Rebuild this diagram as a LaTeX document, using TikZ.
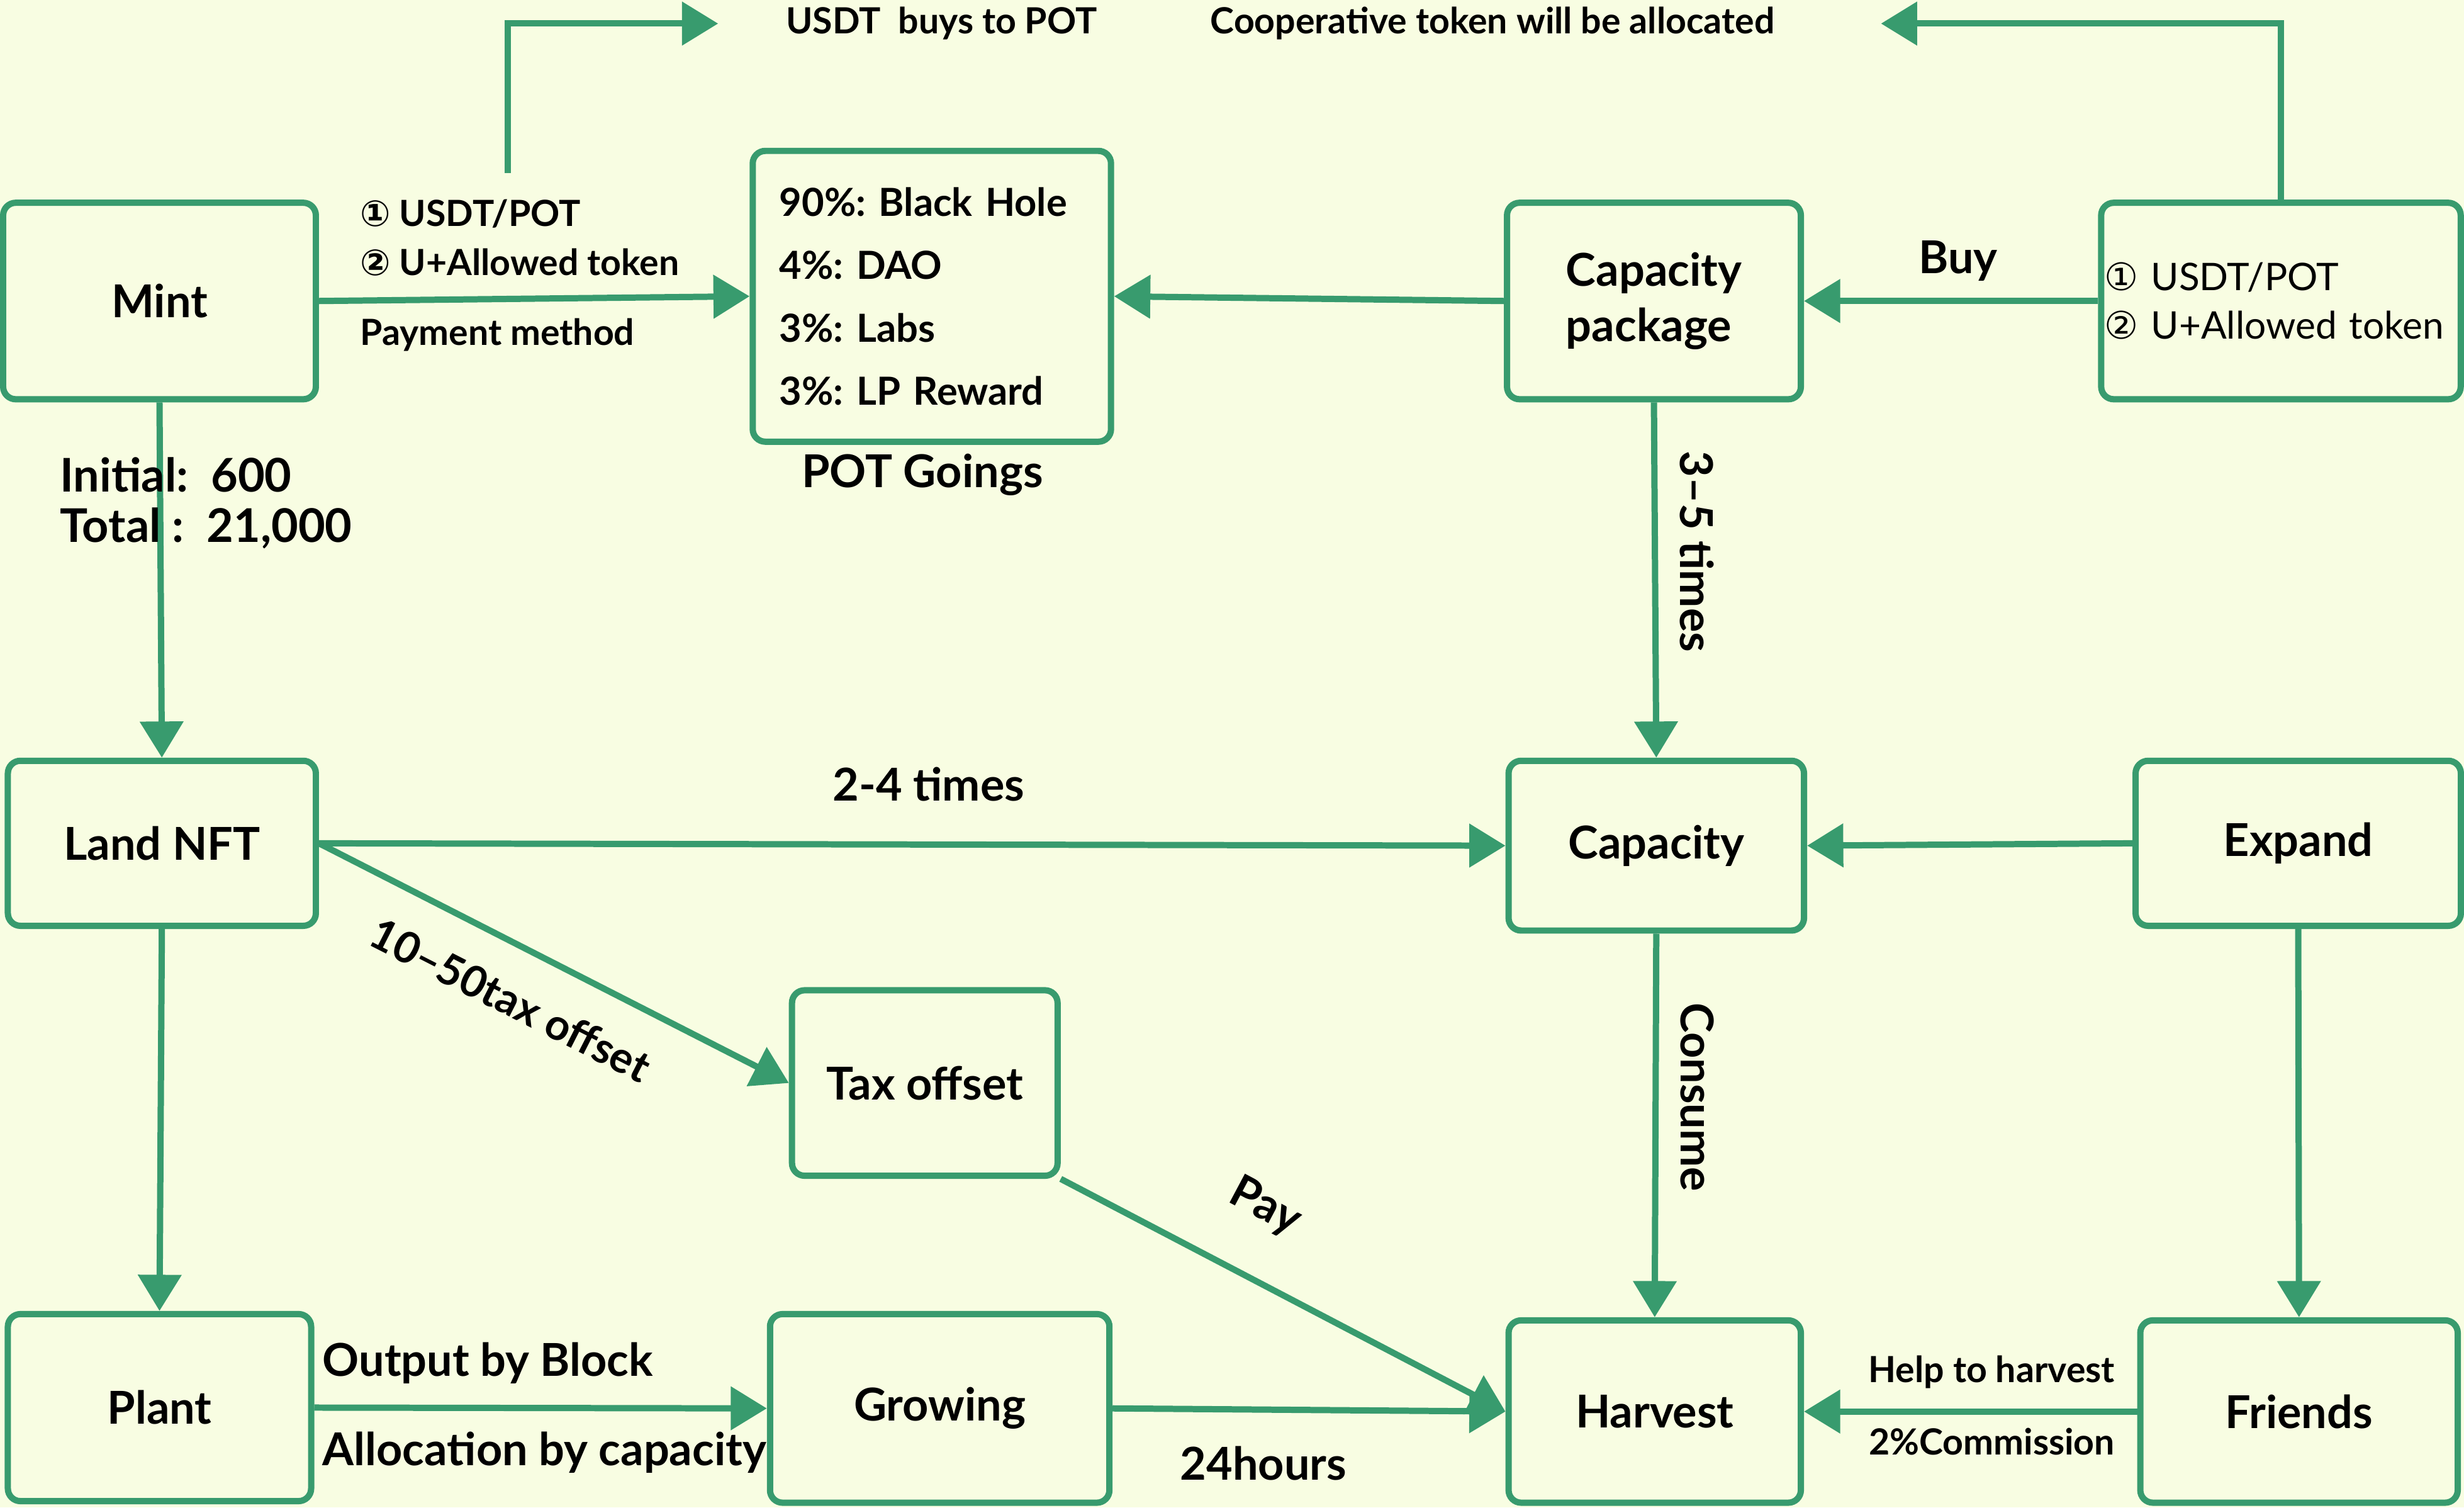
\documentclass[tikz,border=0pt]{standalone}
\usepackage{fontspec}
\setmainfont{Lato}
\newfontfamily\circfont{DejaVu Sans}
\usetikzlibrary{arrows.meta}
\frenchspacing

\definecolor{potgreen}{RGB}{56,155,110}
\definecolor{bgcol}{RGB}{248,253,226}

\newcommand{\cone}{{\circfont\char"2460}}
\newcommand{\ctwo}{{\circfont\char"2461}}

\begin{document}
\begin{tikzpicture}[
    x=0.25mm, y=-0.25mm,
    box/.style={
        draw=potgreen,
        line width=1mm,
        rounded corners=2mm,
        align=center,
        inner sep=0pt,
        font=\fontsize{20.5}{25}\selectfont\bfseries
    },
    arr/.style={
        draw=potgreen,
        line width=1mm,
        -{Triangle[length=5.75mm,width=6.75mm]}
    },
    lbl/.style={inner sep=0pt, font=\fontsize{20.5}{24}\selectfont\bfseries},
    small/.style={inner sep=0pt, font=\fontsize{16.3}{19}\selectfont\bfseries}
]
    % background
    \fill[bgcol] (0,0) rectangle (1568,959);
    \useasboundingbox (0,0) rectangle (1568,959);

    % top row
    \node[box, minimum width=49.75mm, minimum height=31.25mm] (mint) at (101.5,191.5) {Mint};
    \node[box, text width=48.5mm, inner xsep=4.25mm, minimum height=46.25mm, align=left,
          font=\fontsize{17.5}{28.45}\selectfont\bfseries] (pot) at (593,188.5)
        {90\%: Black Hole\\4\%: DAO\\3\%: Labs\\3\%: LP Reward};
    \node[box, minimum width=46.75mm, minimum height=31.25mm, align=left] (capkg) at (1052.5,191.5)
        {Capacity\\package};
    \node[box, text width=56.2mm, inner xsep=0.5mm, minimum height=31.25mm, align=left,
          font=\fontsize{17.2}{22}\selectfont] (usdt) at (1451.5,191.5)
        {\cone\ USDT/POT\\\ctwo\ U+Allowed token\\[2mm]};

    % middle row
    \node[box, minimum width=49mm, minimum height=26.25mm] (land) at (103,536.5) {Land NFT};
    \node[box, minimum width=47mm, minimum height=27mm] (cap) at (1054,538) {Capacity};
    \node[box, minimum width=51.75mm, minimum height=26.25mm] (expand) at (1462.5,536.5) {Expand};
    \node[box, minimum width=42.25mm, minimum height=29.5mm] (tax) at (588.5,689) {Tax offset};

    % bottom row
    \node[box, minimum width=48.25mm, minimum height=29.75mm] (plant) at (101.5,895.5) {Plant};
    \node[box, minimum width=54mm, minimum height=30mm] (grow) at (598,896) {Growing};
    \node[box, minimum width=46.5mm, minimum height=29mm] (harvest) at (1053,898) {Harvest};
    \node[box, minimum width=50.5mm, minimum height=29mm] (friends) at (1463,898) {Friends};

    % free ends of the top connectors
    \coordinate (buyA) at (323,110);
    \coordinate (buyB) at (457,15);
    \coordinate (coopB) at (1197,15);

    % Edges
    \draw[arr] (mint.east) -- (pot.west);
    \draw[arr] (buyA) |- (buyB);
    \draw[arr] (usdt.north) |- (coopB);
    \draw[arr] (capkg.west) -- (pot.east);
    \draw[arr] (usdt.west) -- (capkg.east);
    \draw[arr] (mint.south) -- (land.north);
    \draw[arr] (capkg.south) -- (cap.north);
    \draw[arr] (land.east) -- (cap.west);
    \draw[arr] (expand.west) -- (cap.east);
    \draw[arr] (land.east) -- (tax.west);
    \draw[arr] (tax.south east) -- (harvest.west);
    \draw[arr] (cap.south) -- (harvest.north);
    \draw[arr] (expand.south) -- (friends.north);
    \draw[arr] (land.south) -- (plant.north);
    \draw[arr] (plant.east) -- (grow.west);
    \draw[arr] (grow.east) -- (harvest.west);
    \draw[arr] (friends.west) -- (harvest.east);

    % labels
    \node[small, anchor=west] (pay1) at (229,136) {\cone\ USDT/POT};
    \node[small, anchor=west] (pay2) at (229,167) {\ctwo\ U+Allowed token};
    \node[small, anchor=west] (paym) at (229,213) {Payment method};
    \node[small, anchor=west] (buyto) at (500,15) {USDT\ \ buys to POT};
    \node[small, anchor=west] (coop) at (770,15) {Cooperative token will be allocated};
    \node[lbl] (potlbl) at (587,302) {POT Goings};
    \node[lbl] (buy) at (1246,166) {Buy};
    \node[lbl, anchor=west, font=\fontsize{21}{24}\selectfont\bfseries] (init) at (38,302) {Initial:\ \ 600};
    \node[lbl, anchor=west, font=\fontsize{21}{24}\selectfont\bfseries] (total) at (38,336) {Total\ :\ \ 21,000};
    \node[lbl, rotate=-90] (times35) at (1080,351) {3–5 times};
    \node[lbl] (times24) at (591,499) {2-4 times};
    \node[lbl, rotate=-27, font=\fontsize{19.5}{24}\selectfont\bfseries] (taxlbl) at (325,636) {10–50tax offset};
    \node[lbl, rotate=-28] (paylbl) at (805,768) {Pay};
    \node[lbl, rotate=-90] (consume) at (1080,698) {Consume};
    \node[lbl, anchor=west] (outblk) at (205,867) {Output by Block};
    \node[lbl, anchor=west] (alloc) at (205,924) {Allocation by capacity};
    \node[lbl] (hours) at (804,931) {24hours};
    \node[small, anchor=east] (help) at (1346,873) {Help to harvest};
    \node[small, anchor=east] (comm) at (1346,917) {2\%Commission};
\end{tikzpicture}
\end{document}
